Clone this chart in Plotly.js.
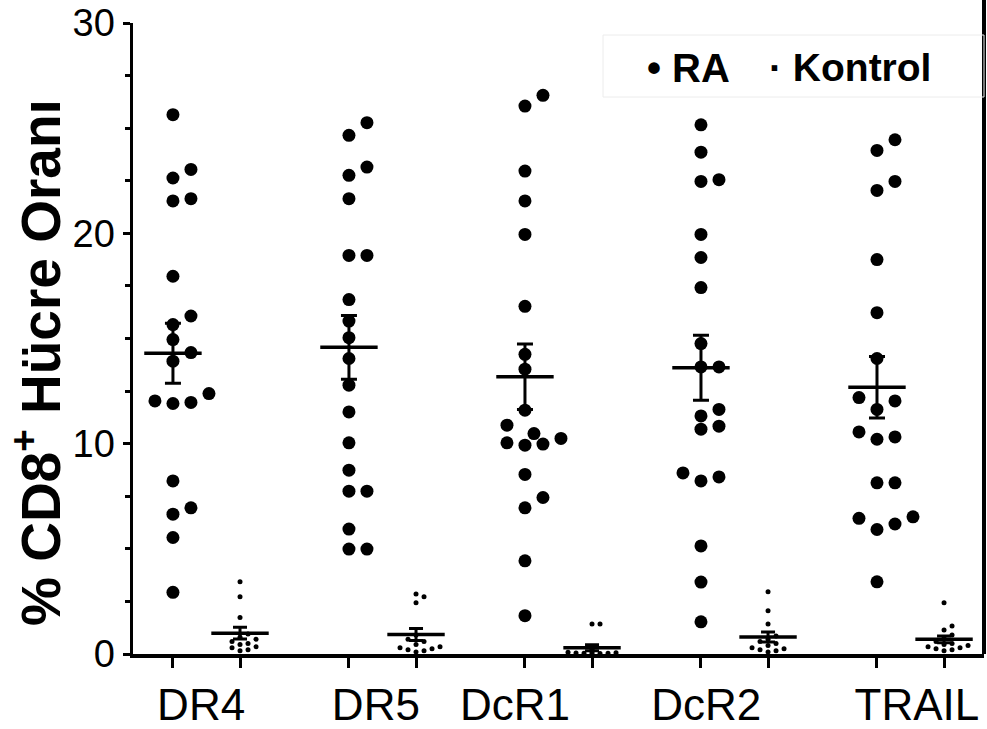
<!DOCTYPE html>
<html>
<head>
<meta charset="utf-8">
<script src="https://cdn.plot.ly/plotly-3.0.1.min.js"></script>
<style>html,body{margin:0;padding:0;background:#fff;}#chart{width:987px;height:729px;}</style>
</head>
<body>
<div id="chart"></div>
<script>
// ---- data ----
const categories = ['DR4', 'DR5', 'DcR1', 'DcR2', 'TRAIL'];
const groupNames = ['RA', 'Kontrol'];
const yTickVals = [0, 10, 20, 30];

const raDR4 = [25.64, 23.04, 22.63, 21.65, 21.54, 17.96, 16.07, 15.66, 14.95, 14.33, 13.92, 12.03, 11.91, 12.38, 11.96, 8.23, 6.95, 6.65, 5.54, 2.93];
const raDR5 = [25.26, 24.66, 23.15, 22.76, 21.65, 18.95, 18.95, 16.85, 15.83, 15.04, 14.05, 12.78, 11.51, 10.04, 8.74, 7.74, 7.74, 5.94, 4.99, 4.99];
const raDcR1 = [26.56, 26.05, 22.96, 21.54, 19.95, 16.53, 14.25, 13.54, 11.59, 10.88, 10.48, 10.04, 9.93, 10.25, 9.98, 8.54, 7.44, 6.95, 4.43, 1.82];
const raDcR2 = [25.16, 23.86, 22.47, 22.55, 19.95, 18.85, 17.42, 14.76, 13.65, 13.65, 11.63, 11.32, 10.69, 10.83, 8.42, 8.23, 8.61, 5.14, 3.42, 1.53];
const raTRAIL = [24.45, 23.94, 22.47, 22.04, 18.75, 16.23, 14.05, 12.19, 12.03, 11.63, 10.32, 10.21, 10.56, 8.14, 8.14, 6.18, 6.52, 5.92, 6.45, 3.43];

const konDR4 = [3.44, 2.72, 1.74, 0.95, 0.8, 0.7, 0.6, 0.5, 0.45, 0.35, 0.3, 0.2, 0.15];
const konDR5 = [2.85, 2.72, 2.44, 0.9, 0.7, 0.6, 0.45, 0.35, 0.3, 0.25, 0.2, 0.15, 0.1];
const konDcR1 = [1.43, 1.43, 0.3, 0.2, 0.15, 0.1, 0.08, 0.06, 0.05, 0.04, 0.03, 0.02, 0.01];
const konDcR2 = [2.96, 2.06, 1.43, 0.85, 0.7, 0.6, 0.5, 0.4, 0.3, 0.25, 0.2, 0.15, 0.1];
const konTRAIL = [2.44, 1.33, 1.14, 0.9, 0.75, 0.6, 0.5, 0.45, 0.4, 0.35, 0.3, 0.25, 0.2, 0.15];

// ---- layout geometry ----
const W = 987, H = 729;
const M = {l: 133, r: 3, t: 23, b: 75};
const xRange = [-0.227, 4.608];
const yRange = [0, 30];
const kontrolShift = 0.381;                          // Kontrol column sits right of RA column
const labelShift = [0.16, 0.153, -0.057, 0.03, 0.227]; // where each category label sits (category units)
const plotW = W - M.l - M.r, plotH = H - M.t - M.b;
const pxX = plotW / (xRange[1] - xRange[0]);
const pxY = plotH / (yRange[1] - yRange[0]);
const px2paperX = p => (p - M.l) / plotW;
const px2paperY = p => 1 - (p - M.t) / plotH;

const raSets = [raDR4, raDR5, raDcR1, raDcR2, raTRAIL];
const konSets = [konDR4, konDR5, konDcR1, konDcR2, konTRAIL];

// simple beeswarm: spread points that would overlap
function swarm(vals, stepPx, diamPx) {
  const order = vals.map((v, i) => i).sort((a, b) => vals[a] - vals[b]);
  const cands = [0, 1, -1, 0.5, -0.5, 1.5, -1.5, 2, -2, 2.5, -2.5, 3, -3, 3.5, -3.5].map(c => c * stepPx);
  const placed = [];
  const off = new Array(vals.length).fill(0);
  for (const i of order) {
    const y = vals[i] * pxY;
    for (const c of cands) {
      if (placed.every(p => Math.hypot(p.x - c, p.y - y) >= diamPx)) {
        off[i] = c; placed.push({x: c, y: y}); break;
      }
    }
  }
  return off.map(o => o / pxX);
}
const mean = a => a.reduce((s, v) => s + v, 0) / a.length;
const sem = a => { const m = mean(a); const sd = Math.sqrt(a.reduce((s, v) => s + (v - m) ** 2, 0) / (a.length - 1)); return sd / Math.sqrt(a.length); };

function pointsTrace(sets, shift, size, stepPx, diamPx) {
  const xs = [], ys = [];
  sets.forEach((vals, ci) => {
    const offs = swarm(vals, stepPx, diamPx);
    vals.forEach((v, j) => { xs.push(ci + shift + offs[j]); ys.push(v); });
  });
  return {type: 'scatter', mode: 'markers', x: xs, y: ys, showlegend: false, hoverinfo: 'y',
          marker: {color: '#000', size: size, line: {width: 0}}};
}
function meanTrace(sets, shift, capW) {
  return {type: 'scatter', mode: 'markers', showlegend: false, hoverinfo: 'y',
          x: sets.map((s, ci) => ci + shift), y: sets.map(mean),
          marker: {symbol: 'line-ew-open', size: 41, color: '#000', line: {color: '#000', width: 3.5}},
          error_y: {type: 'data', array: sets.map(sem), visible: true, color: '#000', thickness: 3, width: capW}};
}

const traces = [
  pointsTrace(raSets, 0, 13, 18, 13),
  pointsTrace(konSets, kontrolShift, 5, 8, 6),
  meanTrace(raSets, 0, 8),
  meanTrace(konSets, kontrolShift, 7),
  {type: 'scatter', x: [xRange[0]], y: [0], xaxis: 'x2', mode: 'markers', marker: {opacity: 0}, showlegend: false, hoverinfo: 'skip'}
];

const colTicks = [];
categories.forEach((c, i) => { colTicks.push(i, i + kontrolShift); });

const layout = {
  width: W, height: H,
  margin: M,
  paper_bgcolor: '#fff', plot_bgcolor: '#fff',
  font: {family: 'Liberation Sans, Arial, sans-serif', color: '#000'},
  showlegend: false,
  xaxis: {range: xRange, showgrid: false, zeroline: false, showline: true, linecolor: '#000', linewidth: 3.5,
          tickvals: colTicks, ticktext: colTicks.map(() => ''), ticks: 'outside', ticklen: 10, tickwidth: 3,
          tickcolor: '#000', showticklabels: false, fixedrange: true},
  xaxis2: {overlaying: 'x', range: xRange, side: 'bottom', anchor: 'y', showgrid: false,
           zeroline: false, showline: false, tickvals: categories.map((c, i) => i + labelShift[i]),
           ticktext: categories, ticks: 'outside', ticklen: 12, tickcolor: 'rgba(0,0,0,0)',
           tickfont: {size: 44}},
  yaxis: {range: yRange, showgrid: false, zeroline: false, showline: true, linecolor: '#000', linewidth: 3.5,
          tickvals: yTickVals, ticks: 'outside', ticklen: 7, tickwidth: 3, tickcolor: '#000',
          tickfont: {size: 38},
          minor: {dtick: 2.5, ticks: 'outside', ticklen: 5, tickwidth: 3, tickcolor: '#000', showgrid: false}},
  annotations: [
    {text: '% CD8<sup>+</sup> Hücre Oranı', textangle: -90, xref: 'paper', yref: 'paper',
     x: px2paperX(37), y: px2paperY(363), xanchor: 'center', yanchor: 'middle', showarrow: false,
     font: {size: 55, weight: 700}},
    {text: '• ' + groupNames[0], xref: 'paper', yref: 'paper', x: px2paperX(645), y: px2paperY(68),
     xanchor: 'left', yanchor: 'middle', showarrow: false, font: {size: 40, weight: 700}},
    {text: '· ' + groupNames[1], xref: 'paper', yref: 'paper', x: px2paperX(767), y: px2paperY(68),
     xanchor: 'left', yanchor: 'middle', showarrow: false, font: {size: 39, weight: 700}}
  ],
  shapes: [
    {type: 'line', xref: 'paper', yref: 'paper', x0: 1, x1: 1, y0: 0, y1: 1.04, line: {color: '#000', width: 4}},
    {type: 'rect', xref: 'paper', yref: 'paper', x0: px2paperX(603), x1: 1, y0: px2paperY(97), y1: px2paperY(35),
     line: {color: '#ececec', width: 1}, fillcolor: 'rgba(0,0,0,0)'}
  ]
};

Plotly.newPlot('chart', traces, layout, {displayModeBar: false, staticPlot: true});
</script>
</body>
</html>
